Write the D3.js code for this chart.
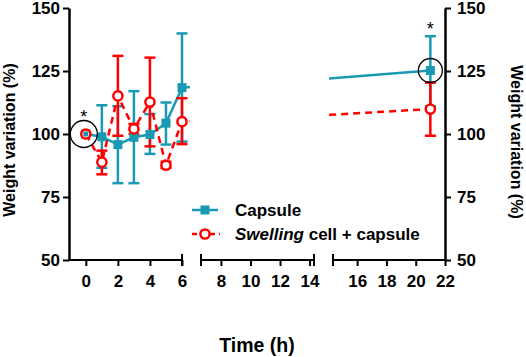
<!DOCTYPE html>
<html lang="en">
<head>
<meta charset="UTF-8">
<title>Weight variation</title>
<style>
    body { margin: 0; background: #fff; }
    text { font-family: "Liberation Sans", Arial, sans-serif; font-weight: bold; }
</style>
</head>
<body>
<script src="https://d3js.org/d3.v7.min.js"></script>
<script>
    // data
    const times = [0, 1, 2, 3, 4, 5, 6, 21];
    const capsuleMean = [100, 98.9, 95.8, 98.7, 99.8, 104.3, 118.4, 125.2];
    const capsuleLow  = [100, 86.6, 80.5, 80.5, 92.1, 95.8, 97, 111];
    const capsuleHigh = [100, 111.4, 111, 117, 107.9, 112.5, 139.9, 138.8];
    const swellMean = [100, 88.8, 115.1, 102, 112.7, 87.6, 104.9, 109.9];
    const swellLow  = [100, 84, 99.3, 100, 95.1, 86.5, 96, 99.3];
    const swellHigh = [100, 93.4, 131, 104, 130.3, 89, 114.2, 120.4];
    const yTicks = [50, 75, 100, 125, 150];
    const segTicks = [[0, 2, 4, 6], [8, 10, 12, 14], [16, 18, 20, 22]];
    const segDomains = [[-1.05, 6], [6.65, 14.3], [14.35, 22]];
    // significance marks: time, circled value, asterisk value
    const sigTimes = [0, 21];
    const sigValues = [100, 125.2];
    const starValues = [108.7, 143.4];

    const teal = "#1a9ab2";
    const red = "#ff0000";
    const FONT = "'Liberation Sans', Arial, sans-serif";

    const W = 526, H = 357;
    const svg = d3.select("body").append("svg").attr("width", W).attr("height", H);

    const y = d3.scaleLinear().domain([50, 150]).range([260, 8]);
    const segRanges = [[69, 182], [201, 314], [333, 445]];
    const xs = segDomains.map((d, i) => d3.scaleLinear().domain(d).range(segRanges[i]));

    function xOf(t) {
        for (let i = 0; i < xs.length; i++) {
            const d = segDomains[i];
            if (t >= d[0] && t <= d[1]) return xs[i](t);
        }
        return null;
    }

    // x axis, three segments
    const axisY = y(50);
    xs.forEach((sx, i) => {
        const g = svg.append("g").attr("transform", `translate(0,${axisY})`);
        g.call(d3.axisBottom(sx).tickValues(segTicks[i]).tickSize(6).tickPadding(9).tickFormat(d3.format("d")));
        g.select(".domain").remove();
        g.selectAll(".tick line").attr("stroke", "#000").attr("stroke-width", 2);
        g.selectAll(".tick text").attr("font-size", 17).attr("fill", "#000")
            .style("font-family", FONT).style("font-weight", "bold");
        g.append("line").attr("x1", segRanges[i][0]).attr("x2", segRanges[i][1])
            .attr("stroke", "#000").attr("stroke-width", 2);
        // end caps
        segRanges[i].forEach((px, k) => {
            if (i === 0 && k === 0) return;
            if (i === 2 && k === 1) return;
            g.append("line").attr("x1", px).attr("x2", px).attr("y1", -6).attr("y2", 6)
                .attr("stroke", "#000").attr("stroke-width", 2);
        });
    });

    // y axes
    function styleY(g) {
        g.select(".domain").attr("stroke-width", 2.5);
        g.selectAll(".tick line").attr("stroke-width", 2);
        g.selectAll(".tick text").attr("font-size", 17).attr("fill", "#000")
            .style("font-family", FONT).style("font-weight", "bold");
    }
    svg.append("g").attr("transform", "translate(69,0)")
        .call(d3.axisLeft(y).tickValues(yTicks).tickSize(6).tickSizeOuter(0).tickPadding(3))
        .call(styleY);
    svg.append("g").attr("transform", "translate(445,0)")
        .call(d3.axisRight(y).tickValues(yTicks).tickSize(6).tickSizeOuter(0).tickPadding(6))
        .call(styleY);

    // axis titles
    svg.append("text").attr("transform", "translate(15,140) rotate(-90)")
        .attr("text-anchor", "middle").attr("font-size", 16).text("Weight variation (%)");
    svg.append("text").attr("transform", "translate(511,142) rotate(90)")
        .attr("text-anchor", "middle").attr("font-size", 16).text("Weight variation (%)");
    svg.append("text").attr("x", 257).attr("y", 352)
        .attr("text-anchor", "middle").attr("font-size", 19.5).text("Time (h)");

    // lines are only drawn in the first and last segments
    const defs = svg.append("defs");
    [0, 2].forEach(i => {
        defs.append("clipPath").attr("id", "clip" + i).append("rect")
            .attr("x", segRanges[i][0] - (i === 2 ? 4 : 0)).attr("y", 0)
            .attr("width", segRanges[i][1] - segRanges[i][0] + 8).attr("height", axisY);
    });

    function drawSeries(mean, low, high, color, dashed) {
        const pts = times.map((t, i) => ({ t, v: mean[i], lo: low[i], hi: high[i] }));
        [0, 2].forEach(seg => {
            const line = d3.line().x(d => xs[seg](d.t)).y(d => y(d.v));
            svg.append("path").datum(pts)
                .attr("clip-path", `url(#clip${seg})`)
                .attr("fill", "none").attr("stroke", color).attr("stroke-width", 2.5)
                .attr("stroke-dasharray", dashed ? "7,5" : null)
                .attr("d", line);
        });
        // error bars
        const eb = svg.append("g").attr("stroke", color).attr("stroke-width", 2.5);
        pts.forEach(d => {
            if (d.hi === d.lo) return;
            const cx = xOf(d.t);
            eb.append("line").attr("x1", cx).attr("x2", cx).attr("y1", y(d.lo)).attr("y2", y(d.hi));
            [d.lo, d.hi].forEach(v => eb.append("line")
                .attr("x1", cx - 5.5).attr("x2", cx + 5.5).attr("y1", y(v)).attr("y2", y(v)));
        });
        return pts;
    }

    const capPts = drawSeries(capsuleMean, capsuleLow, capsuleHigh, teal, false);
    const swPts = drawSeries(swellMean, swellLow, swellHigh, red, true);

    svg.append("g").selectAll("rect").data(capPts).join("rect")
        .attr("x", d => xOf(d.t) - 4.5).attr("y", d => y(d.v) - 4.5)
        .attr("width", 9).attr("height", 9).attr("fill", teal);
    svg.append("g").selectAll("circle").data(swPts).join("circle")
        .attr("cx", d => xOf(d.t)).attr("cy", d => y(d.v)).attr("r", 4.6)
        .attr("fill", "#fff").attr("stroke", red).attr("stroke-width", 2.5);
    // at t=0 the capsule square shows through the open circle
    svg.append("rect").attr("x", xOf(0) - 2.5).attr("y", y(capsuleMean[0]) - 2.5)
        .attr("width", 5).attr("height", 5).attr("fill", teal);

    // significance circles and stars
    sigTimes.forEach((t, i) => {
        svg.append("circle").attr("cx", xOf(t) - (i === 0 ? 2 : 0)).attr("cy", y(sigValues[i]))
            .attr("r", i === 0 ? 13.5 : 12)
            .attr("fill", "none").attr("stroke", "#000").attr("stroke-width", 1.3);
        svg.append("text").attr("x", xOf(t) - (i === 0 ? 2 : 0)).attr("y", y(starValues[i]) + 10.5)
            .attr("text-anchor", "middle").attr("font-size", 18)
            .style("font-weight", "normal").text("*");
    });

    // legend
    const lg = svg.append("g");
    lg.append("line").attr("x1", 192).attr("x2", 218).attr("y1", 210).attr("y2", 210)
        .attr("stroke", teal).attr("stroke-width", 2.5);
    lg.append("rect").attr("x", 200.5).attr("y", 205.5).attr("width", 9).attr("height", 9).attr("fill", teal);
    lg.append("text").attr("x", 235).attr("y", 216).attr("font-size", 17).text("Capsule");
    lg.append("line").attr("x1", 192).attr("x2", 220).attr("y1", 234).attr("y2", 234)
        .attr("stroke", red).attr("stroke-width", 2.5).attr("stroke-dasharray", "5,4");
    lg.append("circle").attr("cx", 205).attr("cy", 234).attr("r", 4.6)
        .attr("fill", "#fff").attr("stroke", red).attr("stroke-width", 2.5);
    const t2 = lg.append("text").attr("x", 235).attr("y", 240).attr("font-size", 17);
    t2.append("tspan").attr("font-style", "italic").text("Swelling");
    t2.append("tspan").text(" cell + capsule");
</script>
</body>
</html>
